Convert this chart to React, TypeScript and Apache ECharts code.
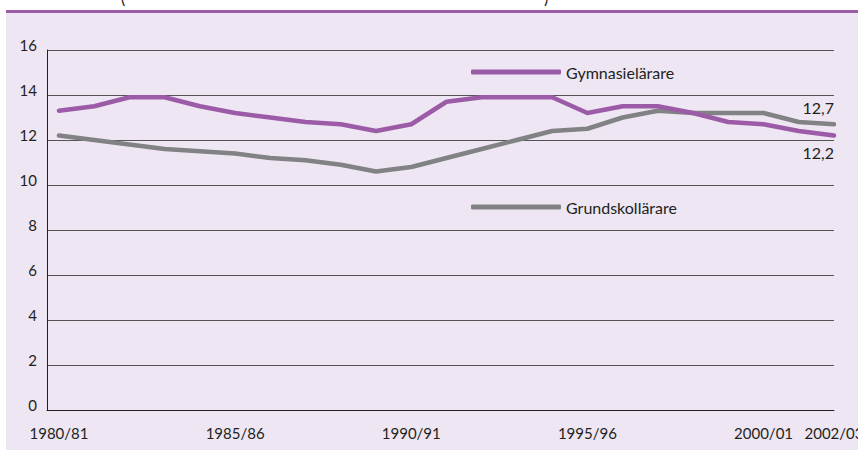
import React, { useEffect, useRef } from "react";
import * as echarts from "echarts";

const years = [
  "1980/81", "1981/82", "1982/83", "1983/84", "1984/85", "1985/86", "1986/87", "1987/88",
  "1988/89", "1989/90", "1990/91", "1991/92", "1992/93", "1993/94", "1994/95", "1995/96",
  "1996/97", "1997/98", "1998/99", "1999/00", "2000/01", "2001/02", "2002/03",
];
const gymnasielarare = [
  13.3, 13.5, 13.9, 13.9, 13.5, 13.2, 13.0, 12.8, 12.7, 12.4, 12.7, 13.7,
  13.9, 13.9, 13.9, 13.2, 13.5, 13.5, 13.2, 12.8, 12.7, 12.4, 12.2,
];
const grundskollarare = [
  12.2, 12.0, 11.8, 11.6, 11.5, 11.4, 11.2, 11.1, 10.9, 10.6, 10.8, 11.2,
  11.6, 12.0, 12.4, 12.5, 13.0, 13.3, 13.2, 13.2, 13.2, 12.8, 12.7,
];
const xTickIndices = [0, 5, 10, 15, 20, 22];
const yTicks = [0, 2, 4, 6, 8, 10, 12, 14, 16];

const PURPLE = "#9c5ba7";
const GRAY = "#818283";
const BG = "#eee6f2";
const TEXT = "#231f20";
const FONT = "Lato";

function toPoints(vals: number[], labelPos: "top" | "bottom") {
  return vals.map((v, i) => {
    if (i === vals.length - 1) {
      return {
        value: [i, v],
        label: {
          show: true,
          position: labelPos,
          align: "right",
          distance: 9,
          formatter: () => String(v).replace(".", ","),
          color: TEXT,
          fontFamily: FONT,
          fontSize: 16,
        },
      };
    }
    return { value: [i, v] };
  });
}

export default function App() {
  const ref = useRef<HTMLDivElement>(null);
  useEffect(() => {
    if (!ref.current) return;
    const chart = echarts.init(ref.current, undefined, { renderer: "svg" });
    chart.setOption({
      animation: false,
      backgroundColor: "#ffffff",
      textStyle: { fontFamily: FONT, color: TEXT },
      graphic: [
        { type: "rect", z: -10, shape: { x: 6, y: 13, width: 852, height: 437 }, style: { fill: BG } },
        { type: "rect", z: -10, shape: { x: 6, y: 10, width: 852, height: 3 }, style: { fill: PURPLE } },
        { type: "text", x: 121, y: 5, style: { text: "(", fontSize: 16, fontFamily: FONT, fill: TEXT, verticalAlign: "bottom" } },
        { type: "text", x: 544, y: 5, style: { text: ")", fontSize: 16, fontFamily: FONT, fill: TEXT, verticalAlign: "bottom" } },
      ],
      grid: { left: 47, right: 24, top: 50, bottom: 40, containLabel: false, outerBoundsMode: "none" },
      legend: [
        {
          data: ["Gymnasielärare"],
          left: 471,
          top: 63,
          padding: 0,
          icon: "roundRect",
          itemWidth: 90,
          itemHeight: 5,
          textStyle: { fontSize: 16, fontFamily: FONT, color: TEXT, lineHeight: 18 },
        },
        {
          data: ["Grundskollärare"],
          left: 471,
          top: 198,
          padding: 0,
          icon: "roundRect",
          itemWidth: 90,
          itemHeight: 5,
          textStyle: { fontSize: 16, fontFamily: FONT, color: TEXT, lineHeight: 18 },
        },
      ],
      xAxis: {
        type: "value",
        min: -0.34,
        max: 22,
        splitLine: { show: false },
        axisTick: { show: false },
        axisLine: { show: true, onZero: false, lineStyle: { color: TEXT, width: 1 } },
        axisLabel: {
          customValues: xTickIndices,
          formatter: (v: number) => years[Math.round(v)] ?? "",
          fontSize: 15,
          fontFamily: FONT,
          color: TEXT,
          margin: 15,
        },
      },
      yAxis: {
        type: "value",
        min: 0,
        max: 16,
        interval: 2,
        axisTick: { show: false },
        axisLine: { show: true, onZero: false, lineStyle: { color: TEXT, width: 1 } },
        splitLine: { show: true, lineStyle: { color: "#555555", width: 1 } },
        axisLabel: {
          customValues: yTicks,
          fontSize: 15,
          fontFamily: FONT,
          color: TEXT,
          margin: 10,
          verticalAlign: "bottom",
          lineHeight: 10,
        },
      },
      series: [
        {
          name: "Gymnasielärare",
          type: "line",
          data: toPoints(gymnasielarare, "bottom"),
          symbol: "circle",
          symbolSize: 0,
          showSymbol: true,
          lineStyle: { color: PURPLE, width: 4.5, cap: "round", join: "round" },
          itemStyle: { color: PURPLE },
          z: 3,
        },
        {
          name: "Grundskollärare",
          type: "line",
          data: toPoints(grundskollarare, "top"),
          symbol: "circle",
          symbolSize: 0,
          showSymbol: true,
          lineStyle: { color: GRAY, width: 4.5, cap: "round", join: "round" },
          itemStyle: { color: GRAY },
          z: 2,
        },
      ],
    });
    return () => chart.dispose();
  }, []);
  return <div ref={ref} style={{ width: 858, height: 450, position: "absolute", left: 0, top: 0 }} />;
}
